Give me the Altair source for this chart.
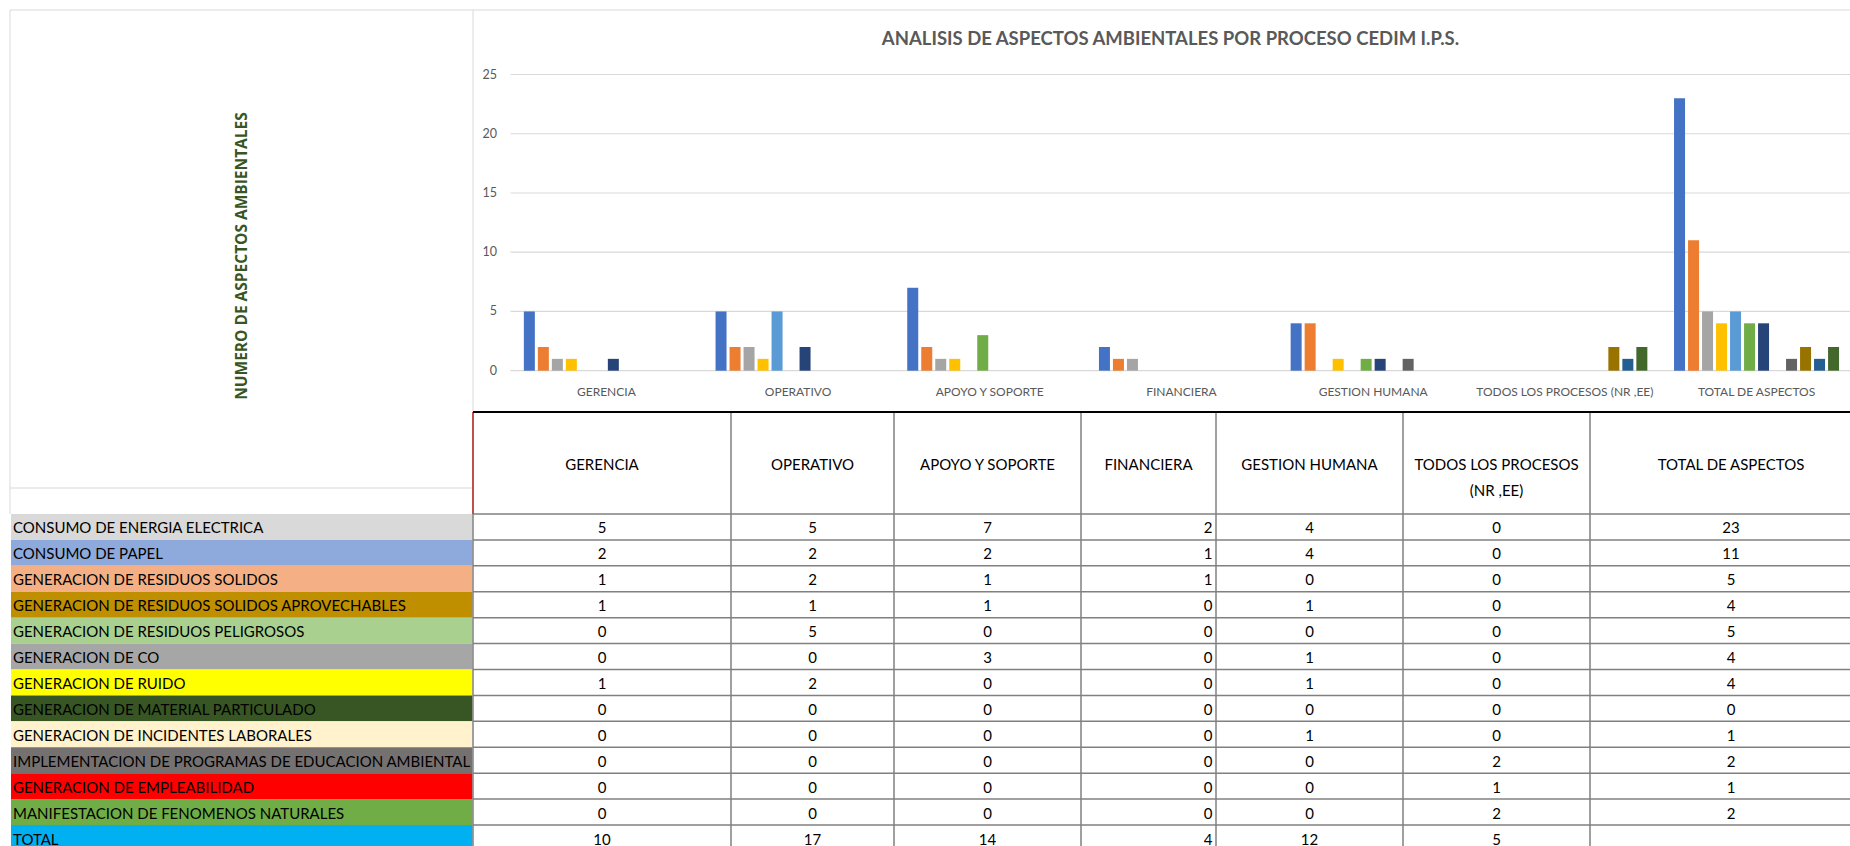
import altair as alt
import pandas as pd

# ---------------- data ----------------
PROCESSES = ["GERENCIA", "OPERATIVO", "APOYO Y SOPORTE", "FINANCIERA",
             "GESTION HUMANA", "TODOS LOS PROCESOS (NR ,EE)", "TOTAL DE ASPECTOS"]
HEADER_LABELS = ["GERENCIA", "OPERATIVO", "APOYO Y SOPORTE", "FINANCIERA",
                 "GESTION HUMANA", "TODOS LOS PROCESOS\n(NR ,EE)", "TOTAL DE ASPECTOS"]
ASPECTS = [
    "CONSUMO DE ENERGIA ELECTRICA",
    "CONSUMO DE PAPEL",
    "GENERACION DE RESIDUOS SOLIDOS",
    "GENERACION DE RESIDUOS SOLIDOS APROVECHABLES",
    "GENERACION DE RESIDUOS PELIGROSOS",
    "GENERACION DE CO",
    "GENERACION DE RUIDO",
    "GENERACION DE MATERIAL PARTICULADO",
    "GENERACION DE INCIDENTES LABORALES",
    "IMPLEMENTACION DE PROGRAMAS DE EDUCACION AMBIENTAL",
    "GENERACION DE EMPLEABILIDAD",
    "MANIFESTACION DE FENOMENOS NATURALES",
]
GERENCIA = [5, 2, 1, 1, 0, 0, 1, 0, 0, 0, 0, 0]
OPERATIVO = [5, 2, 2, 1, 5, 0, 2, 0, 0, 0, 0, 0]
APOYO = [7, 2, 1, 1, 0, 3, 0, 0, 0, 0, 0, 0]
FINANCIERA = [2, 1, 1, 0, 0, 0, 0, 0, 0, 0, 0, 0]
GESTION = [4, 4, 0, 1, 0, 1, 1, 0, 1, 0, 0, 0]
TODOS = [0, 0, 0, 0, 0, 0, 0, 0, 0, 2, 1, 2]
TOTAL_ASPECTOS = [23, 11, 5, 4, 5, 4, 4, 0, 1, 2, 1, 2]
SERIES = [GERENCIA, OPERATIVO, APOYO, FINANCIERA, GESTION, TODOS, TOTAL_ASPECTOS]
TOTAL_LABEL = "TOTAL"
TOTAL_ROW = [10, 17, 14, 4, 12, 5, None]
Y_TICKS = [0, 5, 10, 15, 20, 25]

TITLE = "ANALISIS DE ASPECTOS AMBIENTALES POR PROCESO CEDIM I.P.S."
Y_TITLE = "NUMERO DE ASPECTOS AMBIENTALES"

# ---------------- styles / layout ----------------
BAR_COLORS = ["#4472C4", "#ED7D31", "#A5A5A5", "#FFC000", "#5B9BD5", "#70AD47",
              "#264478", "#9E480E", "#636363", "#997300", "#255E91", "#43682B"]
ROW_FILLS = ["#D9D9D9", "#8EA9DB", "#F4B084", "#BF8F00", "#A9D08E", "#A6A6A6",
             "#FFFF00", "#375623", "#FFF2CC", "#757171", "#FF0000", "#70AD47", "#00B0F0"]
W, H = 1850, 846
PLOT_X = [510.5, 1852.4]
PLOT_Y = [370.7, 74.5]
COL_EDGES = [473, 731, 894, 1081, 1216, 1403, 1590, 1872]
ROW_TOP, ROW_H = 514, 25.92
HEADER_TOP = 412
FONT = "Lato"
GRID = "#D9D9D9"
LINE = "#808080"

ROWS = ASPECTS + [TOTAL_LABEL]

# ---------------- frames ----------------
bars_df = pd.DataFrame([
    {"process": p, "aspect": a, "value": SERIES[i][j]}
    for i, p in enumerate(PROCESSES) for j, a in enumerate(ASPECTS)
])
proc_df = pd.DataFrame({"process": PROCESSES, "header": HEADER_LABELS,
                        "cx": [(COL_EDGES[i] + COL_EDGES[i + 1]) / 2 for i in range(len(PROCESSES))]})
tick_df = pd.DataFrame({"v": Y_TICKS})
row_df = pd.DataFrame({"row": ROWS})
cells = []
for i, p in enumerate(PROCESSES):
    cx = (COL_EDGES[i] + COL_EDGES[i + 1]) / 2
    for j, a in enumerate(ASPECTS):
        cells.append({"process": p, "row": a, "txt": str(SERIES[i][j]), "cx": cx})
    if TOTAL_ROW[i] is not None:
        cells.append({"process": p, "row": TOTAL_LABEL, "txt": str(TOTAL_ROW[i]), "cx": cx})
cell_df = pd.DataFrame(cells)
edge_df = pd.DataFrame({"ex": COL_EDGES[1:-1]})
one = pd.DataFrame({"k": [0]})

# ---------------- scales ----------------
x_bar = alt.Scale(domain=PROCESSES, range=PLOT_X, paddingInner=0, paddingOuter=0)
y_bar = alt.Scale(domain=[0, 25], range=PLOT_Y, nice=False, zero=True)
y_tab = alt.Scale(domain=ROWS, range=[ROW_TOP, ROW_TOP + ROW_H * len(ROWS)],
                  paddingInner=0, paddingOuter=0)


def rule(x, x2, y, y2, color, sw=1.0):
    return alt.Chart(one).mark_rule(color=color, strokeWidth=sw).encode(
        x=alt.value(x), x2=alt.value(x2), y=alt.value(y), y2=alt.value(y2))


layers = []

# frame lines of the sheet objects
layers.append(rule(10, W, 10, 10, GRID))
layers.append(rule(10, 10, 10, ROW_TOP, GRID))
layers.append(rule(473, 473, 10, HEADER_TOP, GRID))
layers.append(rule(10, 473, 488, 488, GRID))

# vertical axis title text box
layers.append(alt.Chart(one).mark_text(
    angle=270, font="Open Sans", fontSize=15.5, fontWeight="bold", color="#375623",
    align="center", baseline="middle").encode(
    x=alt.value(241.5), y=alt.value(256), text=alt.value(Y_TITLE)))

# chart title
layers.append(alt.Chart(one).mark_text(
    font=FONT, fontSize=18.5, fontWeight="bold", color="#595959",
    align="center", baseline="middle").encode(
    x=alt.value(1170.5), y=alt.value(39), text=alt.value(TITLE)))

# gridlines
layers.append(alt.Chart(tick_df).mark_rule(color=GRID, strokeWidth=1.2).encode(
    y=alt.Y("v:Q", scale=y_bar, axis=None),
    x=alt.value(PLOT_X[0]), x2=alt.value(W)))

# y tick labels
layers.append(alt.Chart(tick_df).mark_text(
    font=FONT, fontSize=12.5, color="#595959", align="right", baseline="middle").encode(
    y=alt.Y("v:Q", scale=y_bar, axis=None), x=alt.value(497), text="v:Q"))

# bars
layers.append(alt.Chart(bars_df).transform_filter("datum.value > 0").mark_bar().encode(
    x=alt.X("process:N", scale=x_bar, axis=None),
    xOffset=alt.XOffset("aspect:N", scale=alt.Scale(domain=ASPECTS, paddingInner=0.214,
                                                   paddingOuter=0.953)),
    y=alt.Y("value:Q", scale=y_bar, axis=None),
    color=alt.Color("aspect:N", scale=alt.Scale(domain=ASPECTS, range=BAR_COLORS), legend=None),
))

# category labels
layers.append(alt.Chart(proc_df).mark_text(
    font=FONT, fontSize=12, color="#595959", align="center", baseline="middle").encode(
    x=alt.X("process:N", scale=x_bar, axis=None), y=alt.value(391.7), text="process:N"))

# ---------- table ----------
# label column fills
layers.append(alt.Chart(row_df).mark_rect().encode(
    y=alt.Y("row:N", scale=y_tab, axis=None),
    x=alt.value(11), x2=alt.value(472.5),
    color=alt.Color("row:N", scale=alt.Scale(domain=ROWS, range=ROW_FILLS), legend=None)))

# label texts
layers.append(alt.Chart(row_df).mark_text(
    font=FONT, fontSize=15, color="#000000", align="left", baseline="middle", dy=1.5).encode(
    y=alt.Y("row:N", scale=y_tab, axis=None), x=alt.value(13), text="row:N"))

# row lines
layers.append(alt.Chart(row_df).mark_rule(color=LINE, strokeWidth=1.5).encode(
    y=alt.Y("row:N", scale=y_tab, axis=None, bandPosition=0),
    x=alt.value(473), x2=alt.value(W)))

# column lines
layers.append(alt.Chart(edge_df).mark_rule(color=LINE, strokeWidth=1.5).encode(
    x=alt.X("ex:Q", scale=None, axis=None),
    y=alt.value(HEADER_TOP), y2=alt.value(H)))
layers.append(rule(473, 473, ROW_TOP, H, LINE, 1.5))
layers.append(rule(473, 473, HEADER_TOP, ROW_TOP, "#C0504D", 2))
layers.append(rule(473, W, HEADER_TOP, HEADER_TOP, "#000000", 2))

# header labels
layers.append(alt.Chart(proc_df).mark_text(
    font=FONT, fontSize=15, color="#000000", align="center", baseline="middle",
    lineBreak="\n", lineHeight=26).encode(
    x=alt.X("cx:Q", scale=None, axis=None), y=alt.value(465), text="header:N"))

# values (centered columns)
layers.append(alt.Chart(cell_df).transform_filter("datum.process != 'FINANCIERA'").mark_text(
    font=FONT, fontSize=15, color="#000000", align="center", baseline="middle", dy=1.5).encode(
    x=alt.X("cx:Q", scale=None, axis=None),
    y=alt.Y("row:N", scale=y_tab, axis=None), text="txt:N"))

# values (right-aligned column)
layers.append(alt.Chart(cell_df).transform_filter("datum.process == 'FINANCIERA'").mark_text(
    font=FONT, fontSize=15, color="#000000", align="right", baseline="middle", dy=1.5).encode(
    x=alt.value(1212.5),
    y=alt.Y("row:N", scale=y_tab, axis=None), text="txt:N"))

chart = alt.layer(*layers).resolve_scale(
    x="independent", y="independent", color="independent"
).properties(
    width=W, height=H, padding=0, background="white",
    autosize=alt.AutoSizeParams(type="none"),
).configure_view(stroke=None)

chart.save("out.html", embed_options={"renderer": "svg", "actions": False})
